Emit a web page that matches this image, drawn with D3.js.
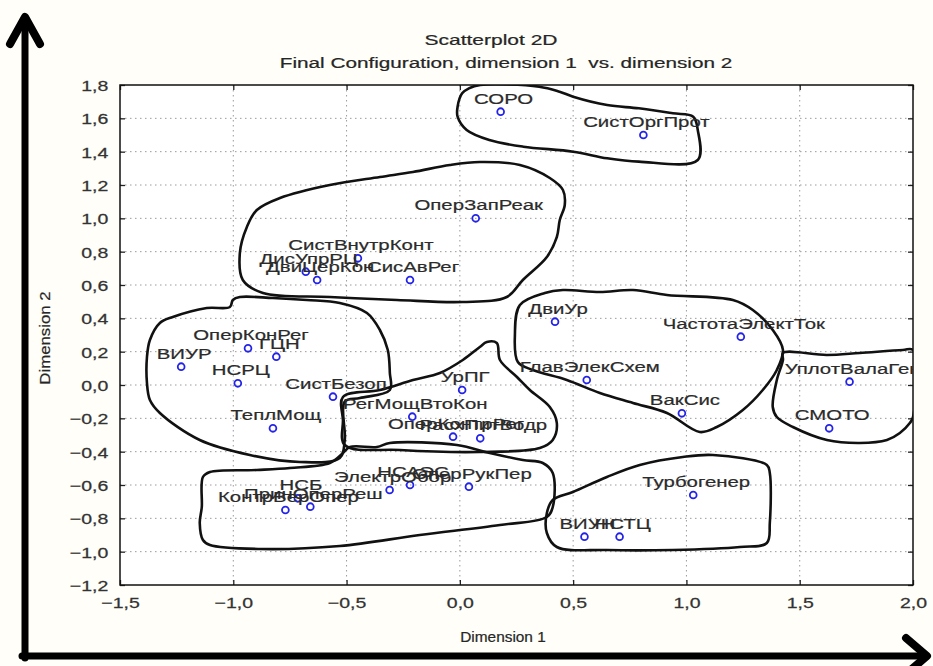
<!DOCTYPE html>
<html>
<head>
<meta charset="utf-8">
<script src="https://cdn.jsdelivr.net/npm/d3@7"></script>
<style>
  body { margin: 0; background: #fffef8; }
  text { font-family: "Liberation Sans", Arial, sans-serif; white-space: pre; }
</style>
</head>
<body>
<svg id="chart" width="933" height="666"></svg>
<script>
// Multidimensional scaling result: object names and their coordinates
const names = [
  "СОРО", "СистОргПрот", "ОперЗапРеак", "СистВнутрКонт", "ДисУпрРЦ", "ДвиЦерКон",
  "СисАвРег", "ДвиУр", "ЧастотаЭлектТок", "ОперКонРег", "ГЦН", "ВИУР", "НСРЦ",
  "ГлавЭлекСхем", "УплотВалаГен", "УрПГ", "СистБезоп", "ВакСис", "РегМощВтоКон",
  "ТеплМощ", "СМОТО", "ОперКонтрРег", "РасхПитВодр", "НСАЭС", "ОперРукПер",
  "ЭлектрОбор", "Турбогенер", "НСБ", "ПринОперРеш", "КонтрВерОпер", "ВИУН", "НСТЦ"
];
const dim1 = [
  0.18, 0.81, 0.07, -0.45, -0.68, -0.63,
  -0.22, 0.42, 1.24, -0.935, -0.81, -1.23, -0.98,
  0.56, 1.72, 0.01, -0.56, 0.98, -0.21,
  -0.825, 1.63, -0.03, 0.09, -0.22, 0.04,
  -0.31, 1.03, -0.715, -0.66, -0.77, 0.55, 0.705
];
const dim2 = [
  1.64, 1.50, 1.00, 0.76, 0.68, 0.63,
  0.63, 0.38, 0.29, 0.22, 0.17, 0.11, 0.01,
  0.03, 0.02, -0.03, -0.07, -0.17, -0.19,
  -0.26, -0.26, -0.31, -0.32, -0.60, -0.61,
  -0.63, -0.66, -0.68, -0.73, -0.75, -0.91, -0.91
];

const xTicks = [-1.5, -1.0, -0.5, 0.0, 0.5, 1.0, 1.5, 2.0];
const yTicks = [-1.2, -1.0, -0.8, -0.6, -0.4, -0.2, 0.0, 0.2, 0.4, 0.6, 0.8, 1.0, 1.2, 1.4, 1.6, 1.8];

const titleText = "Scatterplot 2D";
const subtitleText = "Final Configuration, dimension 1  vs. dimension 2";
const xTitle = "Dimension 1";
const yTitle = "Dimension 2";

// Hand-drawn group outlines, in dimension units
const outlineTop = [[0.09,1.80],[0.35,1.79],[0.44,1.76],[0.50,1.73],[0.65,1.68],[0.79,1.66],[0.94,1.63],[1.03,1.61],[1.05,1.53],[1.05,1.35],[0.79,1.34],[0.65,1.36],[0.50,1.40],[0.28,1.43],[0.13,1.47],[0.03,1.53],[-0.01,1.61],[-0.01,1.67],[0.01,1.75],[0.04,1.78]];
const outlineUpper = [[-0.896,1.05],[-0.794,1.122],[-0.574,1.20],[-0.353,1.248],[-0.207,1.278],[-0.044,1.32],[0.088,1.338],[0.265,1.32],[0.397,1.242],[0.455,1.17],[0.463,1.08],[0.441,0.99],[0.428,0.888],[0.384,0.768],[0.278,0.63],[0.207,0.528],[0.013,0.498],[-0.278,0.51],[-0.574,0.528],[-0.869,0.552],[-0.958,0.63],[-0.971,0.792],[-0.940,0.948]];
const outlineLeft = [[-1.015,0.468],[-1.002,0.51],[-0.971,0.528],[-0.825,0.522],[-0.675,0.51],[-0.530,0.492],[-0.410,0.432],[-0.353,0.33],[-0.318,0.21],[-0.309,0.072],[-0.309,-0.03],[-0.441,-0.078],[-0.508,-0.10],[-0.508,-0.33],[-0.530,-0.438],[-0.706,-0.462],[-0.927,-0.42],[-1.148,-0.33],[-1.324,-0.168],[-1.368,-0.09],[-1.381,0.012],[-1.381,0.168],[-1.368,0.27],[-1.324,0.372],[-1.267,0.408],[-1.117,0.462]];
const outlineCenter = [[-0.516,-0.072],[-0.353,-0.03],[-0.207,0.03],[-0.088,0.072],[0.013,0.15],[0.088,0.228],[0.119,0.258],[0.163,0.252],[0.177,0.15],[0.252,0.048],[0.309,-0.03],[0.397,-0.132],[0.428,-0.228],[0.410,-0.33],[0.353,-0.378],[0.088,-0.402],[-0.265,-0.39],[-0.508,-0.36],[-0.516,-0.21]];
const outlineLower = [[-1.103,-0.522],[-0.896,-0.51],[-0.750,-0.498],[-0.574,-0.468],[-0.516,-0.408],[-0.485,-0.372],[-0.366,-0.372],[-0.309,-0.348],[-0.013,-0.36],[0.132,-0.408],[0.278,-0.45],[0.366,-0.468],[0.410,-0.528],[0.410,-0.732],[0.384,-0.792],[0.177,-0.84],[-0.177,-0.90],[-0.530,-0.966],[-0.883,-0.984],[-1.103,-0.96],[-1.134,-0.93],[-1.148,-0.828],[-1.139,-0.732],[-1.134,-0.552]];
const outlineRight = [[0.265,0.48],[0.375,0.552],[0.455,0.57],[0.618,0.558],[0.764,0.57],[0.914,0.54],[1.205,0.51],[1.293,0.45],[1.381,0.33],[1.426,0.21],[1.399,0.09],[1.337,-0.03],[1.249,-0.15],[1.134,-0.252],[1.059,-0.282],[0.914,-0.168],[0.764,-0.108],[0.618,-0.048],[0.472,0.03],[0.322,0.09],[0.256,0.138],[0.243,0.30]];
const outlineFarRight = [[1.426,0.192],[1.620,0.18],[1.765,0.192],[1.955,0.21],[2.00,0.21],[2.00,-0.192],[1.986,-0.228],[1.942,-0.288],[1.885,-0.33],[1.765,-0.348],[1.620,-0.33],[1.470,-0.252],[1.399,-0.192],[1.381,-0.132],[1.399,0.03],[1.426,0.15]];
const outlineBottomRight = [[0.984,-0.432],[1.117,-0.42],[1.355,-0.48],[1.368,-0.528],[1.368,-0.828],[1.355,-0.948],[1.236,-0.972],[0.940,-0.99],[0.649,-0.99],[0.428,-0.972],[0.384,-0.888],[0.384,-0.768],[0.410,-0.69],[0.499,-0.642],[0.649,-0.552],[0.794,-0.48]];
const outlines = [outlineTop, outlineUpper, outlineLeft, outlineCenter, outlineLower, outlineRight, outlineFarRight, outlineBottomRight];

const svg = d3.select("#chart");
const plot = { left: 120, right: 913, top: 85, bottom: 585 };

const x = d3.scaleLinear().domain([-1.5, 2.0]).range([plot.left, plot.right]);
const y = d3.scaleLinear().domain([-1.2, 1.8]).range([plot.bottom, plot.top]);
const fmt = v => d3.format(".1f")(v).replace(".", ",");

svg.append("rect").attr("width", 933).attr("height", 666).attr("fill", "#fffef8");

// plot background
svg.append("rect")
  .attr("x", plot.left).attr("y", plot.top)
  .attr("width", plot.right - plot.left).attr("height", plot.bottom - plot.top)
  .attr("fill", "#ffffff");

svg.append("clipPath").attr("id", "plotClip")
  .append("rect")
  .attr("x", plot.left).attr("y", plot.top)
  .attr("width", plot.right - plot.left).attr("height", plot.bottom - plot.top);

// dotted grid
const grid = svg.append("g").attr("stroke", "#9a9a9a").attr("stroke-width", 1).attr("stroke-dasharray", "1.5,3.5");
grid.selectAll(".gx").data(xTicks.slice(1, -1)).join("line")
  .attr("x1", d => x(d)).attr("x2", d => x(d))
  .attr("y1", plot.top).attr("y2", plot.bottom);
grid.selectAll(".gy").data(yTicks.slice(1, -1)).join("line")
  .attr("y1", d => y(d)).attr("y2", d => y(d))
  .attr("x1", plot.left).attr("x2", plot.right);

// axes with inward ticks on all sides
const axisLeft = svg.append("g").attr("transform", `translate(${plot.left},0)`)
  .call(d3.axisLeft(y).tickValues(yTicks).tickSize(-5).tickPadding(9).tickFormat(fmt));
const axisBottom = svg.append("g").attr("transform", `translate(0,${plot.bottom})`)
  .call(d3.axisBottom(x).tickValues(xTicks).tickSize(-5).tickPadding(12).tickFormat(fmt));
svg.append("g").attr("transform", `translate(${plot.right},0)`)
  .call(d3.axisRight(y).tickValues(yTicks).tickSize(-5).tickFormat(""));
svg.append("g").attr("transform", `translate(0,${plot.top})`)
  .call(d3.axisTop(x).tickValues(xTicks).tickSize(-5).tickFormat(""));
svg.selectAll(".domain").remove();
svg.selectAll(".tick line").attr("stroke", "#222").attr("stroke-width", 1.3);
[axisLeft, axisBottom].forEach(a => a.selectAll("text")
  .attr("font-family", "Liberation Sans, Arial, sans-serif")
  .attr("font-size", 15).attr("fill", "#333")
  .attr("stroke", "#333").attr("stroke-width", 0.25));
axisLeft.selectAll("text").attr("transform", "scale(1.3,1)").attr("dy", "0.36em");
axisBottom.selectAll("text").attr("transform", "scale(1.3,1)");

// frame
svg.append("rect")
  .attr("x", plot.left).attr("y", plot.top)
  .attr("width", plot.right - plot.left).attr("height", plot.bottom - plot.top)
  .attr("fill", "none").attr("stroke", "#111").attr("stroke-width", 1.5);

// group outlines
const outlineLine = d3.line().x(d => x(d[0])).y(d => y(d[1])).curve(d3.curveCatmullRomClosed.alpha(0.5));
svg.append("g").attr("clip-path", "url(#plotClip)")
  .selectAll("path").data(outlines).join("path")
  .attr("d", outlineLine)
  .attr("fill", "none").attr("stroke", "#111").attr("stroke-width", 2.6)
  .attr("stroke-linejoin", "round");

// points
const pts = names.map((n, i) => ({ name: n, d1: dim1[i], d2: dim2[i] }));
svg.append("g").selectAll("circle").data(pts).join("circle")
  .attr("cx", d => x(d.d1)).attr("cy", d => y(d.d2)).attr("r", 3.4)
  .attr("fill", "none").attr("stroke", "#2424e8").attr("stroke-width", 1.8);

// point labels
svg.append("g").attr("clip-path", "url(#plotClip)")
  .selectAll("text").data(pts).join("text")
  .attr("transform", d => `translate(${x(d.d1) + 3},${y(d.d2) - 8}) scale(1.36,1)`)
  .attr("text-anchor", "middle").attr("font-size", 15).attr("fill", "#2b2b2b")
  .attr("stroke", "#2b2b2b").attr("stroke-width", 0.2)
  .text(d => d.name);

// titles
function stretched(txt, cx, cy, size, sx, extra) {
  return svg.append("text")
    .attr("transform", `translate(${cx},${cy}) ${extra || ""} scale(${sx},1)`)
    .attr("text-anchor", "middle").attr("font-size", size).attr("fill", "#262626")
    .attr("stroke", "#262626").attr("stroke-width", 0.2)
    .text(txt);
}
stretched(titleText, 491, 45, 14, 1.5);
stretched(subtitleText, 506, 68, 14, 1.48);
stretched(xTitle, 503, 642, 14, 1.1);
stretched(yTitle, 50, 338, 14, 1.2, "rotate(-90)");

// big coordinate arrows
const arrows = svg.append("g").attr("stroke", "#000").attr("fill", "none")
  .attr("stroke-linecap", "round").attr("stroke-linejoin", "round");
arrows.append("line").attr("x1", 25).attr("y1", 658).attr("x2", 25).attr("y2", 18).attr("stroke-width", 7);
arrows.append("polyline").attr("points", "10,44 25,17 40,44").attr("stroke-width", 8);
arrows.append("line").attr("x1", 22).attr("y1", 656).attr("x2", 926).attr("y2", 656).attr("stroke-width", 7);
arrows.append("polyline").attr("points", "906,638 927,656 906,674").attr("stroke-width", 8);
</script>
</body>
</html>
